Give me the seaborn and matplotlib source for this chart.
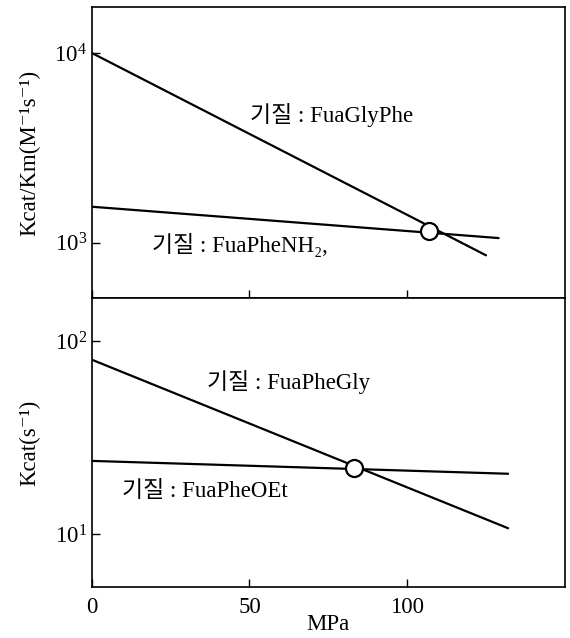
import numpy as np
import pandas as pd
import matplotlib
matplotlib.use("Agg")
import matplotlib.pyplot as plt
import matplotlib.ticker as mticker
import seaborn as sns

# ---- data ----
pressure_top = [0, 125]            # MPa
glyphe_top = [10000, 860]          # kcat/Km, FuaGlyPhe
pressure_nh2 = [0, 129]
phenh2_top = [1550, 1060]          # kcat/Km, FuaPheNH2
cross_top_x = [107]
cross_top_y = [1150]

pressure_bot = [0, 132]
phegly_bot = [80, 10.7]            # kcat, FuaPheGly
pheoet_bot = [23.9, 20.5]          # kcat, FuaPheOEt
cross_bot_x = [83]
cross_bot_y = [22]

labels_top = ["기질 : FuaGlyPhe", "기질 : FuaPheNH₂,"]
labels_bot = ["기질 : FuaPheGly", "기질 : FuaPheOEt"]
xticks = [0, 50, 100]

sns.set_style("ticks")
fam = ["Liberation Serif", "Noto Sans CJK KR", "DejaVu Serif"]
plt.rcParams["font.family"] = fam
plt.rcParams["mathtext.fontset"] = "stix"
for k in ("text.color", "axes.labelcolor", "xtick.color", "ytick.color", "axes.edgecolor"):
    plt.rcParams[k] = "black"

fig = plt.figure(figsize=(5.70, 6.38), dpi=100)
ax1 = fig.add_axes([0.161, 0.533, 0.830, 0.456])
ax2 = fig.add_axes([0.161, 0.080, 0.830, 0.453])

fs = 16.5
lw = 1.6

df_a = pd.DataFrame({"x": pressure_top, "y": glyphe_top})
df_b = pd.DataFrame({"x": pressure_nh2, "y": phenh2_top})
sns.lineplot(data=df_a, x="x", y="y", ax=ax1, color="black", lw=lw)
sns.lineplot(data=df_b, x="x", y="y", ax=ax1, color="black", lw=lw)
sns.scatterplot(x=cross_top_x, y=cross_top_y, ax=ax1, s=150, color="white",
                edgecolor="black", linewidth=1.6, zorder=5)

df_c = pd.DataFrame({"x": pressure_bot, "y": phegly_bot})
df_d = pd.DataFrame({"x": pressure_bot, "y": pheoet_bot})
sns.lineplot(data=df_c, x="x", y="y", ax=ax2, color="black", lw=lw)
sns.lineplot(data=df_d, x="x", y="y", ax=ax2, color="black", lw=lw)
sns.scatterplot(x=cross_bot_x, y=cross_bot_y, ax=ax2, s=150, color="white",
                edgecolor="black", linewidth=1.6, zorder=5)

for ax in (ax1, ax2):
    ax.set_yscale("log")
    ax.set_xlim(0, 150)
    ax.set_xticks(xticks)
    ax.yaxis.set_minor_locator(mticker.NullLocator())
    ax.yaxis.set_major_formatter(mticker.LogFormatterMathtext())
    ax.tick_params(direction="in", length=6, width=1, labelsize=fs, colors="black")
    ax.tick_params(axis="x", pad=7)
    for sp in ax.spines.values():
        sp.set_color("black")
        sp.set_linewidth(1.2)
    ax.set_xlabel("")

ax1.set_ylim(10 ** 2.71, 10 ** 4.242)
ax1.set_yticks([1e3, 1e4])
ax1.yaxis.set_minor_locator(mticker.NullLocator())
ax1.tick_params(axis="x", labelbottom=False)
ax1.set_ylabel("Kcat/Km(M⁻¹s⁻¹)", fontsize=fs, labelpad=10)

ax2.set_ylim(10 ** 0.725, 10 ** 2.223)
ax2.set_yticks([1e1, 1e2])
ax2.yaxis.set_minor_locator(mticker.NullLocator())
ax2.set_ylabel("Kcat(s⁻¹)", fontsize=fs, labelpad=10)
ax2.set_xlabel("MPa", fontsize=fs, labelpad=-3)

ax1.text(0.334, 0.605, labels_top[0], transform=ax1.transAxes, fontsize=fs, va="baseline")
ax1.text(0.127, 0.158, labels_top[1], transform=ax1.transAxes, fontsize=fs, va="baseline")
ax2.text(0.243, 0.685, labels_bot[0], transform=ax2.transAxes, fontsize=fs, va="baseline")
ax2.text(0.063, 0.311, labels_bot[1], transform=ax2.transAxes, fontsize=fs, va="baseline")

fig.savefig("out.png", dpi=100)
